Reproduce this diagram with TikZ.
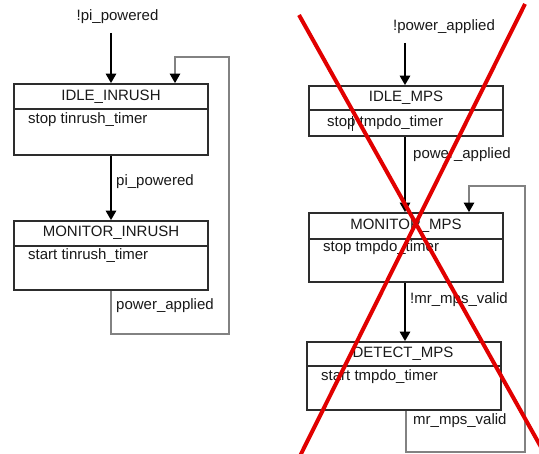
\documentclass[tikz,border=0pt]{standalone}
\usepackage{fontspec}
\setmainfont{Liberation Sans}
\usetikzlibrary{arrows.meta}
\definecolor{boxline}{RGB}{45,45,45}
\definecolor{txt}{RGB}{25,25,25}
\definecolor{loopgray}{RGB}{130,130,130}
\definecolor{crossred}{RGB}{225,0,0}
\tikzset{
  statebox/.style={draw=boxline, line width=1.8pt, minimum width=194pt, inner sep=0pt},
  title/.style={text=txt, font=\fontsize{15}{17}\selectfont, inner sep=0pt},
  body/.style={text=txt, font=\fontsize{15}{17}\selectfont, inner sep=0pt, anchor=west},
  lbl/.style={text=txt, font=\fontsize{15}{17}\selectfont, inner sep=0pt, anchor=west},
  divider/.style={draw=boxline, line width=1.4pt},
  trans/.style={draw=black, line width=1.6pt, -{Triangle[width=10.5pt,length=9.5pt]}},
  looparrow/.style={draw=loopgray, line width=1.4pt, -{Triangle[width=10.5pt,length=9.5pt,fill=black,color=black]}},
  cross/.style={draw=crossred, line width=4pt}
}
\begin{document}
\begin{tikzpicture}[x=1pt,y=-1pt]
\useasboundingbox (0,0) rectangle (539,454);
\fill[white] (0,0) rectangle (539,454);

% ---------- left machine ----------
\node[statebox, minimum height=71pt] (idleI) at (111,119.5) {};
\node[title] (idleIt) at (111,96.5) {IDLE\_INRUSH};
\node[body] (idleIb) at (28,120) {stop tinrush\_timer};
\draw[divider] (idleI.west |- 0,109) -- (idleI.east |- 0,109);

\node[statebox, minimum height=69pt] (monI) at (111,255.5) {};
\node[title] (monIt) at (111,233) {MONITOR\_INRUSH};
\node[body] (monIb) at (28,256) {start tinrush\_timer};
\draw[divider] (monI.west |- 0,246) -- (monI.east |- 0,246);

\node[title] (startI) at (117.5,17) {!pi\_powered};
\coordinate (startIa) at (111,33);
\draw[trans] (startIa) -- (idleI.north);

\draw[trans] (idleI.south) -- (monI.north);
\node[lbl] (lblI1) at (116,182) {pi\_powered};

\coordinate (lI1) at (111,334);
\coordinate (lI2) at (229,334);
\coordinate (lI3) at (229,57);
\coordinate (lI4) at (175,57);
\draw[looparrow] (monI.south) -- (lI1) -- (lI2) -- (lI3) -- (lI4) -- (idleI.north -| lI4);
\node[lbl] (lblI2) at (116,306) {power\_applied};

% ---------- right machine ----------
\node[statebox, minimum height=50pt] (idleM) at (406,111) {};
\node[title] (idleMt) at (406,98) {IDLE\_MPS};
\node[body] (idleMb) at (327,123) {stop tmpdo\_timer};
\draw[divider] (idleM.west |- 0,110) -- (idleM.east |- 0,110);
\coordinate (barA) at (352.5,116);
\coordinate (barB) at (352.5,131);
\draw[draw=txt, line width=0.9pt] (barA) -- (barB);

\node[statebox, minimum height=69pt] (monM) at (406,247.5) {};
\node[title] (monMt) at (406,226) {MONITOR\_MPS};
\node[body] (monMb) at (323,248) {stop tmpdo\_timer};
\draw[divider] (monM.west |- 0,239) -- (monM.east |- 0,239);

\node[statebox, minimum height=68pt] (detM) at (404,376) {};
\node[title] (detMt) at (403,354) {DETECT\_MPS};
\node[body] (detMb) at (321,377) {start tmpdo\_timer};
\draw[divider] (detM.west |- 0,366) -- (detM.east |- 0,366);

\node[title] (startM) at (444,26.5) {!power\_applied};
\coordinate (startMa) at (405,43);
\draw[trans] (startMa) -- (idleM.north -| startMa);

\draw[trans] (idleM.south -| startMa) -- (monM.north -| startMa);
\node[lbl] (lblM1) at (413,155) {power\_applied};

\draw[trans] (monM.south -| startMa) -- (detM.north -| startMa);
\node[lbl] (lblM2) at (410,300) {!mr\_mps\_valid};

\coordinate (lM1) at (406,452);
\coordinate (lM2) at (525,452);
\coordinate (lM3) at (525,186);
\coordinate (lM4) at (469,186);
\draw[looparrow] (detM.south -| lM1) -- (lM1) -- (lM2) -- (lM3) -- (lM4) -- (monM.north -| lM4);
\node[lbl] (lblM3) at (413,421) {mr\_mps\_valid};

% ---------- red cross ----------
\begin{scope}
\clip (0,0) rectangle (539,454);
\coordinate (c1a) at (299,15);
\coordinate (c1b) at (546,456);
\coordinate (c2a) at (525,4);
\coordinate (c2b) at (300,456);
\draw[cross] (c1a) -- (c1b);
\draw[cross] (c2a) -- (c2b);
\end{scope}
\end{tikzpicture}
\end{document}
